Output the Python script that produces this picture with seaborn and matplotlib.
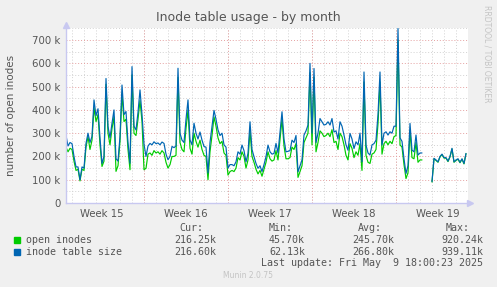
import numpy as np
import pandas as pd
import matplotlib

matplotlib.use("Agg")
import matplotlib.pyplot as plt
import seaborn as sns
from matplotlib.patches import Rectangle

# ─── Data (values in thousands, one sample every 4 hours) ─────────────────────
nan = np.nan
table_size = [
    290, 245, 260, 255, 200, 155, 155, 100, 155, 150,
    256, 300, 260, 286, 443, 375, 405, 280, 170, 200,
    535, 329, 280, 343, 400, 190, 180, 286, 507, 380,
    393, 260, 171, 586, 330, 314, 390, 486, 380, 253,
    200, 245, 256, 250, 263, 255, 258, 250, 262, 256,
    210, 186, 200, 243, 238, 245, 579, 300, 270, 260,
    360, 443, 271, 250, 343, 300, 275, 305, 270, 243,
    240, 129, 260, 330, 398, 360, 314, 290, 300, 250,
    240, 150, 165, 165, 160, 177, 220, 210, 249, 225,
    177, 213, 349, 230, 199, 170, 149, 160, 135, 165,
    199, 249, 220, 210, 213, 256, 215, 306, 392, 275,
    220, 222, 225, 270, 260, 290, 134, 160, 185, 292,
    310, 335, 600, 300, 578, 260, 300, 363, 349, 335,
    338, 349, 335, 363, 305, 310, 275, 349, 330, 292,
    250, 227, 299, 275, 234, 263, 250, 300, 177, 563,
    249, 215, 206, 250, 255, 270, 380, 563, 249, 300,
    306, 292, 306, 300, 330, 330, 750, 280, 265, 190,
    127, 160, 342, 227, 220, 292, 206, 215, 215, nan,
    nan, nan, nan, 92, 192, 185, 177, 200, 210, 195,
    195, 180, 200, 235, 177, 185, 190, 175, 190, 170,
    213,
]
open_inodes = [
    240, 220, 235, 230, 180, 140, 145, 95, 145, 140,
    240, 285, 230, 270, 410, 350, 380, 250, 157, 180,
    510, 300, 250, 320, 370, 136, 160, 265, 470, 350,
    360, 230, 143, 550, 300, 290, 360, 440, 350, 143,
    149, 210, 215, 205, 225, 215, 220, 210, 225, 215,
    175, 150, 165, 200, 200, 205, 540, 260, 230, 220,
    320, 400, 235, 210, 300, 265, 240, 270, 230, 205,
    200, 100, 220, 290, 370, 330, 280, 255, 265, 215,
    205, 120, 135, 140, 135, 150, 195, 185, 220, 200,
    150, 185, 310, 200, 175, 145, 125, 140, 115, 145,
    175, 220, 190, 180, 185, 225, 185, 275, 360, 245,
    190, 190, 195, 240, 230, 255, 110, 135, 160, 260,
    280, 300, 560, 250, 540, 220, 260, 310, 300, 285,
    290, 300, 285, 315, 260, 265, 230, 300, 285, 250,
    205, 185, 255, 235, 195, 220, 205, 255, 140, 520,
    205, 175, 170, 210, 215, 230, 340, 520, 210, 255,
    265, 250, 265, 255, 285, 290, 700, 250, 240, 165,
    105, 130, 310, 195, 190, 260, 175, 185, 185, nan,
    nan, nan, nan, 90, 190, 183, 175, 198, 208, 193,
    193, 178, 198, 232, 175, 183, 188, 173, 188, 168,
    212,
]

week_labels = ["Week 15", "Week 16", "Week 17", "Week 18", "Week 19"]
week_label_days = [3, 10, 17, 24, 31]
week_bounds = [6.5, 13.5, 20.5, 27.5]
span_days = 33.5

series_names = ["open inodes", "inode table size"]
series_colors = ["#00CC00", "#0066B3"]
legend_cur = ["216.25k", "216.60k"]
legend_min = ["45.70k", "62.13k"]
legend_avg = ["245.70k", "266.80k"]
legend_max = ["920.24k", "939.11k"]

# ─── Build table ──────────────────────────────────────────────────────────────
n = len(table_size)
df = pd.DataFrame(
    {
        "day": np.arange(n) / 6.0,
        series_names[0]: np.array(open_inodes) * 1000,
        series_names[1]: np.array(table_size) * 1000,
    }
)
# separate runs of data around the gap so lines are not joined across it
df["part"] = df[series_names[1]].isna().cumsum()

# ─── Figure ───────────────────────────────────────────────────────────────────
sns.set_theme(style="white")
plt.rcParams["font.family"] = ["DejaVu Sans"]
TXT = "#555555"
GRID_RED = "#E5A0A0"
GRID_GRAY = "#D2D2D2"
AXIS_COL = "#C8C8F0"

fig = plt.figure(figsize=(4.97, 2.87), dpi=100, facecolor="#F0F0F0")
ax = fig.add_axes([66 / 497, 84 / 287, 402 / 497, 175 / 287])
ax.set_facecolor("white")

# green first, blue drawn over it (munin draw order)
for name, color in zip(series_names, series_colors):
    sub = df[["day", "part", name]].dropna()
    sns.lineplot(
        data=sub,
        x="day",
        y=name,
        units="part",
        estimator=None,
        sort=False,
        color=color,
        linewidth=0.85,
        legend=False,
        ax=ax,
    )

ax.set_xlim(0, span_days)
ax.set_ylim(0, 752000)

# y ticks + grid
ax.set_yticks(np.arange(0, 800000, 100000))
ax.set_yticklabels(["0"] + [f"{v} k" for v in range(100, 800, 100)])
ax.set_yticks(np.arange(50000, 800000, 100000), minor=True)
ax.grid(which="major", axis="y", color=GRID_RED, linestyle=(0, (1, 2)), linewidth=0.7)
ax.grid(which="minor", axis="y", color=GRID_GRAY, linestyle=(0, (1, 2)), linewidth=0.7)

# x ticks: labels mid-week, day grid, week boundaries in red
ax.set_xticks(week_label_days)
ax.set_xticklabels(week_labels)
ax.set_xticks(np.arange(0.5, span_days, 1.0), minor=True)
ax.grid(which="minor", axis="x", color=GRID_GRAY, linestyle=(0, (1, 2)), linewidth=0.7)
for wb in week_bounds:
    ax.axvline(wb, color=GRID_RED, linestyle=(0, (1, 2)), linewidth=0.7, zorder=0.6)

ax.tick_params(axis="both", which="both", length=0, labelsize=7.3, colors=TXT, pad=4)
ax.set_xlabel("")
ax.set_ylabel("number of open inodes", fontsize=7.5, color=TXT)
ax.yaxis.set_label_coords(-0.125, 0.5)

for s in ["top", "right"]:
    ax.spines[s].set_visible(False)
for s in ["left", "bottom"]:
    ax.spines[s].set_color(AXIS_COL)
    ax.spines[s].set_linewidth(1.0)
ax.plot(1.005, 0, ">", color=AXIS_COL, markersize=4, transform=ax.transAxes, clip_on=False)
ax.plot(0, 1.02, "^", color=AXIS_COL, markersize=4, transform=ax.transAxes, clip_on=False)

# ─── Texts around ─────────────────────────────────────────────────────────────
fig.text(248 / 497, 1 - 17 / 287, "Inode table usage - by month", ha="center", va="center",
         fontsize=9, color=TXT)
fig.text(487 / 497, 1 - 5 / 287, "RRDTOOL / TOBI OETIKER", ha="center", va="top",
         rotation=270, fontsize=5.5, color="#C4C4C4")

mono = "DejaVu Sans Mono"
LS = 7.2
col_right = [216, 305, 394, 483]
headers = ["Cur:", "Min:", "Avg:", "Max:"]
header_right = [203, 293, 382, 470]
for hx, h in zip(header_right, headers):
    fig.text(hx / 497, 1 - 228 / 287, h, ha="right", va="center", family=mono, fontsize=LS, color=TXT)

rows_y = [240, 252]
for k in range(2):
    y = 1 - rows_y[k] / 287
    fig.patches.append(Rectangle((14 / 497, y - 3 / 287), 6 / 497, 6 / 287,
                                 transform=fig.transFigure, color=series_colors[k]))
    fig.text(26 / 497, y, series_names[k], ha="left", va="center", family=mono,
             fontsize=LS, color=TXT)
    for cx, val in zip(col_right, [legend_cur[k], legend_min[k], legend_avg[k], legend_max[k]]):
        fig.text(cx / 497, y, val, ha="right", va="center", family=mono, fontsize=LS, color=TXT)

fig.text(483 / 497, 1 - 263 / 287, "Last update: Fri May  9 18:00:23 2025", ha="right",
         va="center", family=mono, fontsize=LS, color=TXT)
fig.text(248 / 497, 1 - 276 / 287, "Munin 2.0.75", ha="center", va="center",
         fontsize=5.5, color="#C4C4C4")

plt.savefig("out.png", dpi=100, facecolor=fig.get_facecolor())
plt.close()
